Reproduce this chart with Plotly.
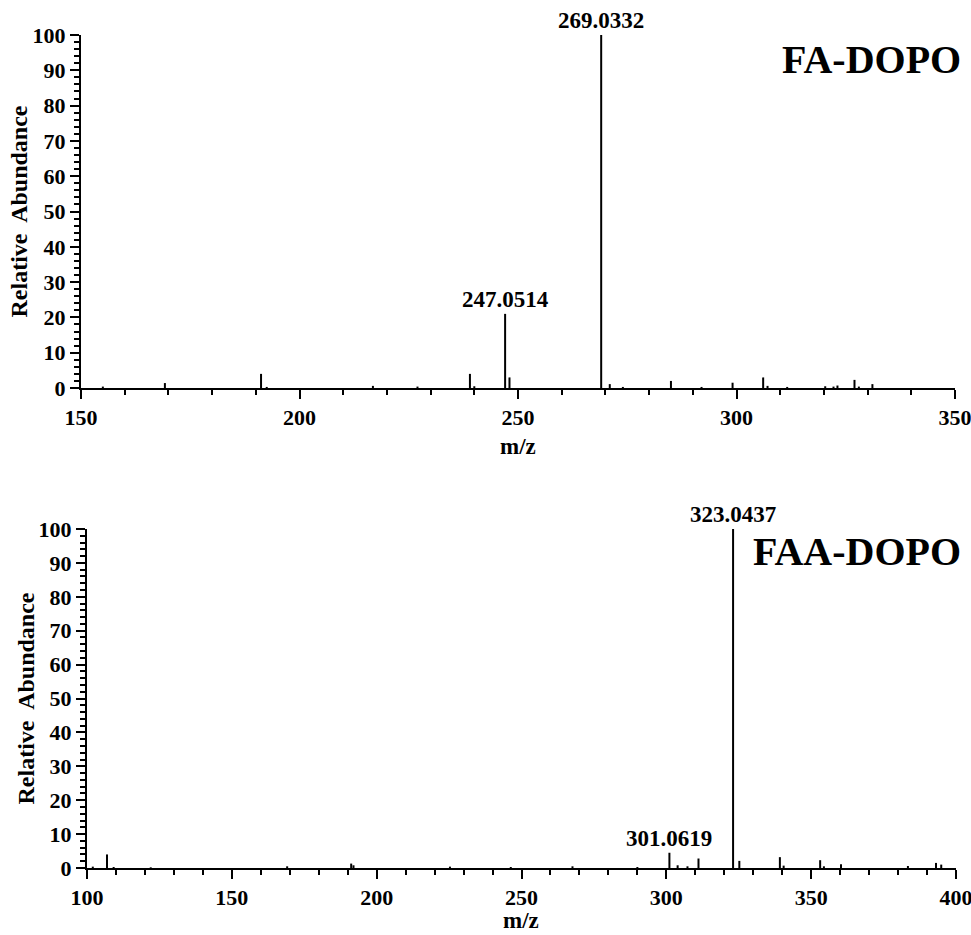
import plotly.graph_objects as go

# ---- data ----
fa_mz = [155.0, 169.2, 191.2, 192.5, 216.8, 227.0, 239.0, 240.0, 247.0514, 248.05,
         269.0332, 271.0, 274.0, 285.0, 292.0, 299.1, 306.1, 307.1, 311.6, 320.3,
         322.2, 323.1, 327.0, 328.0, 331.1]
fa_int = [0.4, 1.4, 4.0, 0.3, 0.6, 0.4, 4.0, 0.5, 21.0, 3.0,
          100.0, 1.1, 0.3, 2.0, 0.3, 1.5, 3.0, 0.6, 0.3, 0.5,
          0.4, 0.7, 2.3, 0.4, 1.1]

faa_mz = [102.0, 106.9, 109.2, 122.0, 169.1, 191.2, 192.0, 225.3, 246.3, 267.6,
          290.0, 301.0619, 303.9, 307.3, 311.1, 323.0437, 325.2, 339.2, 340.5, 353.1,
          354.4, 360.3, 383.4, 393.1, 394.9]
faa_int = [0.4, 4.0, 0.3, 0.2, 0.5, 1.3, 0.8, 0.4, 0.3, 0.5,
           0.3, 4.5, 0.8, 0.5, 2.8, 100.0, 2.1, 3.2, 0.7, 2.3,
           0.5, 1.1, 0.6, 1.5, 1.0]

fa_labels = [(247.0514, 21.0, "247.0514"), (269.0332, 100.0, "269.0332")]
faa_labels = [(301.0619, 4.5, "301.0619"), (323.0437, 100.0, "323.0437")]

fa_ticks = [150, 200, 250, 300, 350]
faa_ticks = [100, 150, 200, 250, 300, 350, 400]
y_ticks = list(range(0, 101, 10))

W, H = 971, 935
FONT = "Liberation Serif, Times New Roman, serif"


def sticks(mz, inten):
    xs, ys = [], []
    for m, v in zip(mz, inten):
        xs += [m, m, None]
        ys += [0, v, None]
    return xs, ys


fig = go.Figure()
x1, y1 = sticks(fa_mz, fa_int)
x2, y2 = sticks(faa_mz, faa_int)
fig.add_trace(go.Scatter(x=x1, y=y1, mode="lines", line=dict(color="black", width=2),
                         xaxis="x", yaxis="y", hoverinfo="skip", showlegend=False))
fig.add_trace(go.Scatter(x=x2, y=y2, mode="lines", line=dict(color="black", width=2),
                         xaxis="x2", yaxis="y2", hoverinfo="skip", showlegend=False))

tickfont = dict(family=FONT, size=22, color="black", weight="bold")
common_x = dict(showline=True, linewidth=2, linecolor="black", showgrid=False, zeroline=False,
                automargin=False, ticklabeloverflow="allow",
                ticks="outside", ticklen=9, tickwidth=2, tickcolor="black", tickfont=tickfont,
                minor=dict(dtick=10, ticks="outside", ticklen=5, tickwidth=2, tickcolor="black",
                           showgrid=False))
common_y = dict(showline=True, linewidth=2, linecolor="black", showgrid=False, zeroline=False,
                automargin=False, ticklabeloverflow="allow",
                range=[0, 100], tickvals=y_ticks, ticks="outside", ticklen=9, tickwidth=2,
                tickcolor="black", tickfont=tickfont,
                minor=dict(dtick=2, ticks="outside", ticklen=5, tickwidth=2, tickcolor="black",
                           showgrid=False))

fig.update_layout(
    template="none",
    width=W, height=H, margin=dict(l=0, r=0, t=0, b=0, pad=0, autoexpand=False),
    paper_bgcolor="white", plot_bgcolor="white",
    xaxis=dict(domain=[81 / W, 955 / W], range=[150, 350], tickvals=fa_ticks, anchor="y",
               **common_x),
    yaxis=dict(domain=[1 - 388 / H, 1 - 35 / H], anchor="x", **common_y),
    xaxis2=dict(domain=[87 / W, 956 / W], range=[100, 400], tickvals=faa_ticks, anchor="y2",
                **common_x),
    yaxis2=dict(domain=[1 - 868 / H, 1 - 529 / H], anchor="x2", **common_y),
)

ann = []
lblfont = dict(family=FONT, size=23, color="black", weight="bold")
for m, v, t in fa_labels:
    ann.append(dict(x=m, y=v, xref="x", yref="y", text=t, showarrow=False,
                    xanchor="center", yanchor="bottom", font=lblfont))
for m, v, t in faa_labels:
    ann.append(dict(x=m, y=v, xref="x2", yref="y2", text=t, showarrow=False,
                    xanchor="center", yanchor="bottom", font=lblfont))

bigfont = dict(family=FONT, size=40, color="black", weight="bold")
ann.append(dict(x=963 / W, y=1 - 59 / H, xref="paper", yref="paper", text="FA-DOPO",
                showarrow=False, xanchor="right", yanchor="middle", font=bigfont))
ann.append(dict(x=963 / W, y=1 - 551 / H, xref="paper", yref="paper", text="FAA-DOPO",
                showarrow=False, xanchor="right", yanchor="middle", font=bigfont))

ytfont = dict(family=FONT, size=24, color="black", weight="bold")
ann.append(dict(x=18 / W, y=1 - 211.5 / H, xref="paper", yref="paper", text="Relative  Abundance",
                showarrow=False, textangle=-90, xanchor="center", yanchor="middle", font=ytfont))
ann.append(dict(x=25 / W, y=1 - 698.5 / H, xref="paper", yref="paper", text="Relative  Abundance",
                showarrow=False, textangle=-90, xanchor="center", yanchor="middle", font=ytfont))

xtfont = dict(family=FONT, size=23, color="black", weight="bold")
ann.append(dict(x=518 / W, y=1 - 447 / H, xref="paper", yref="paper", text="m/z",
                showarrow=False, xanchor="center", yanchor="middle", font=xtfont))
ann.append(dict(x=521 / W, y=0, xref="paper", yref="paper", text="m/z",
                showarrow=False, xanchor="center", yanchor="bottom", font=xtfont))

fig.update_layout(annotations=ann)
fig.write_html("out.html")
